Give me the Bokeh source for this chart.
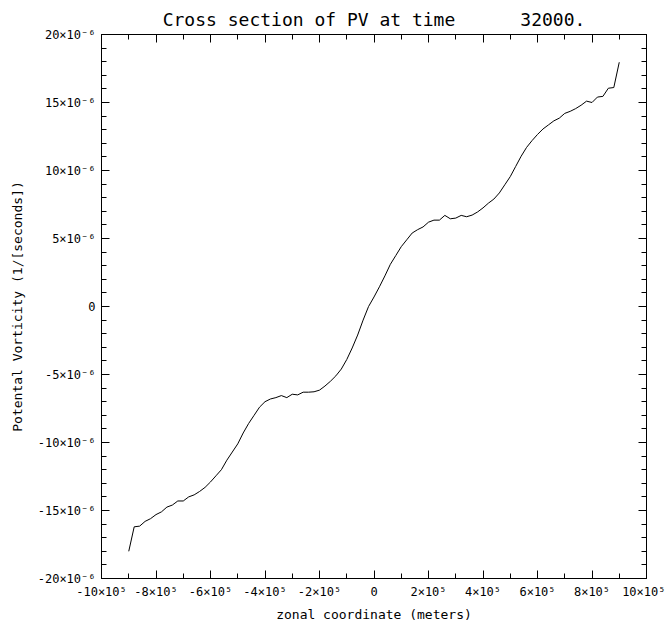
from bokeh.plotting import figure
from bokeh.models import LinearAxis, FixedTicker, Title, Range1d
from bokeh.embed import file_html
from bokeh.resources import INLINE

# zonal coordinate in units of 1e5 m
x_e5 = [-9.0, -8.8, -8.6, -8.4, -8.2, -8.0, -7.8, -7.6, -7.4, -7.2,
        -7.0, -6.8, -6.6, -6.4, -6.2, -6.0, -5.8, -5.6, -5.4, -5.2,
        -5.0, -4.8, -4.6, -4.4, -4.2, -4.0, -3.8, -3.6, -3.4, -3.2,
        -3.0, -2.8, -2.6, -2.4, -2.2, -2.0, -1.8, -1.6, -1.4, -1.2,
        -1.0, -0.8, -0.6, -0.4, -0.2, 0.0, 0.2, 0.4, 0.6, 0.8,
        1.0, 1.2, 1.4, 1.6, 1.8, 2.0, 2.2, 2.4, 2.6, 2.8,
        3.0, 3.2, 3.4, 3.6, 3.8, 4.0, 4.2, 4.4, 4.6, 4.8,
        5.0, 5.2, 5.4, 5.6, 5.8, 6.0, 6.2, 6.4, 6.6, 6.8,
        7.0, 7.2, 7.4, 7.6, 7.8, 8.0, 8.2, 8.4, 8.6, 8.8, 9.0]

# potential vorticity in units of 1e-6 1/s
pv_e6 = [-18.0, -16.2, -16.15, -15.8, -15.6, -15.3, -15.1, -14.75, -14.6, -14.3,
         -14.3, -14.0, -13.85, -13.6, -13.3, -12.9, -12.45, -12.0, -11.3, -10.7,
         -10.1, -9.3, -8.6, -8.0, -7.4, -7.0, -6.8, -6.7, -6.55, -6.7,
         -6.45, -6.5, -6.3, -6.3, -6.27, -6.15, -5.85, -5.5, -5.1, -4.6,
         -3.9, -3.05, -2.1, -1.0, 0.0, 0.7, 1.45, 2.25, 3.1, 3.75,
         4.4, 4.9, 5.4, 5.65, 5.85, 6.2, 6.35, 6.35, 6.7, 6.45,
         6.5, 6.7, 6.6, 6.72, 6.95, 7.25, 7.6, 7.9, 8.35, 8.95,
         9.55, 10.3, 11.05, 11.7, 12.2, 12.65, 13.05, 13.35, 13.65, 13.85,
         14.2, 14.35, 14.55, 14.8, 15.1, 15.0, 15.4, 15.45, 16.05, 16.1, 17.96]

x_major = [-10, -8, -6, -4, -2, 0, 2, 4, 6, 8, 10]
x_minor = [-9, -7, -5, -3, -1, 1, 3, 5, 7, 9]
x_labels = ["-10×10⁵", "-8×10⁵", "-6×10⁵", "-4×10⁵", "-2×10⁵", "0",
            "2×10⁵", "4×10⁵", "6×10⁵", "8×10⁵", "10×10⁵"]
y_major = [-20, -15, -10, -5, 0, 5, 10, 15, 20]
y_minor = [-19, -18, -17, -16, -14, -13, -12, -11, -9, -8, -7, -6, -4, -3, -2, -1,
           1, 2, 3, 4, 6, 7, 8, 9, 11, 12, 13, 14, 16, 17, 18, 19]
y_labels = ["-20×10⁻⁶", "-15×10⁻⁶", "-10×10⁻⁶", "-5×10⁻⁶", "0",
            "5×10⁻⁶", "10×10⁻⁶", "15×10⁻⁶", "20×10⁻⁶"]
title_text = "Cross section of PV at time" + "\u00a0" * 6 + "32000."

FONT = "DejaVu Sans Mono"

p = figure(frame_width=545, frame_height=544,
           min_border_left=101, min_border_right=19, min_border_top=34, min_border_bottom=48,
           x_range=Range1d(-10, 10), y_range=Range1d(-20, 20),
           output_backend="svg", toolbar_location=None, x_axis_location=None, y_axis_location=None)
p.grid.visible = False
p.outline_line_color = "black"
p.outline_line_width = 1
p.background_fill_color = "white"
p.border_fill_color = "white"

p.line(x_e5, pv_e6, line_color="black", line_width=1)

xt = FixedTicker(ticks=x_major, minor_ticks=x_minor)
yt = FixedTicker(ticks=y_major, minor_ticks=y_minor)


def style(ax):
    ax.axis_line_color = "black"
    ax.major_tick_in = 8
    ax.major_tick_out = 0
    ax.minor_tick_in = 5
    ax.minor_tick_out = 0
    ax.major_tick_line_color = "black"
    ax.minor_tick_line_color = "black"
    ax.major_label_text_font = FONT
    ax.major_label_text_font_size = "12px"
    ax.major_label_text_color = "black"
    ax.axis_label_text_font = FONT
    ax.axis_label_text_font_size = "13px"
    ax.axis_label_text_font_style = "normal"
    ax.axis_label_text_color = "black"


bottom = LinearAxis(ticker=xt, axis_label="zonal coordinate (meters)",
                    major_label_overrides=dict(zip(x_major, x_labels)))
style(bottom)
bottom.major_label_standoff = 6
bottom.axis_label_standoff = 5
p.add_layout(bottom, "below")

left = LinearAxis(ticker=yt, axis_label="Potental Vorticity (1/[seconds])",
                  major_label_overrides=dict(zip(y_major, y_labels)))
style(left)
left.major_label_standoff = 6
left.axis_label_standoff = 10
p.add_layout(left, "left")

top = LinearAxis(ticker=xt, major_label_overrides={t: "" for t in x_major})
style(top)
top.major_label_standoff = 0
p.add_layout(top, "above")

right = LinearAxis(ticker=yt, major_label_overrides={t: "" for t in y_major})
style(right)
right.major_label_standoff = 0
p.add_layout(right, "right")

title = Title(text=title_text, align="center",
              text_font=FONT, text_font_size="18px", text_font_style="normal",
              text_color="black", standoff=10)
p.add_layout(title, "above")

open("out.html", "w").write(file_html(p, INLINE))
